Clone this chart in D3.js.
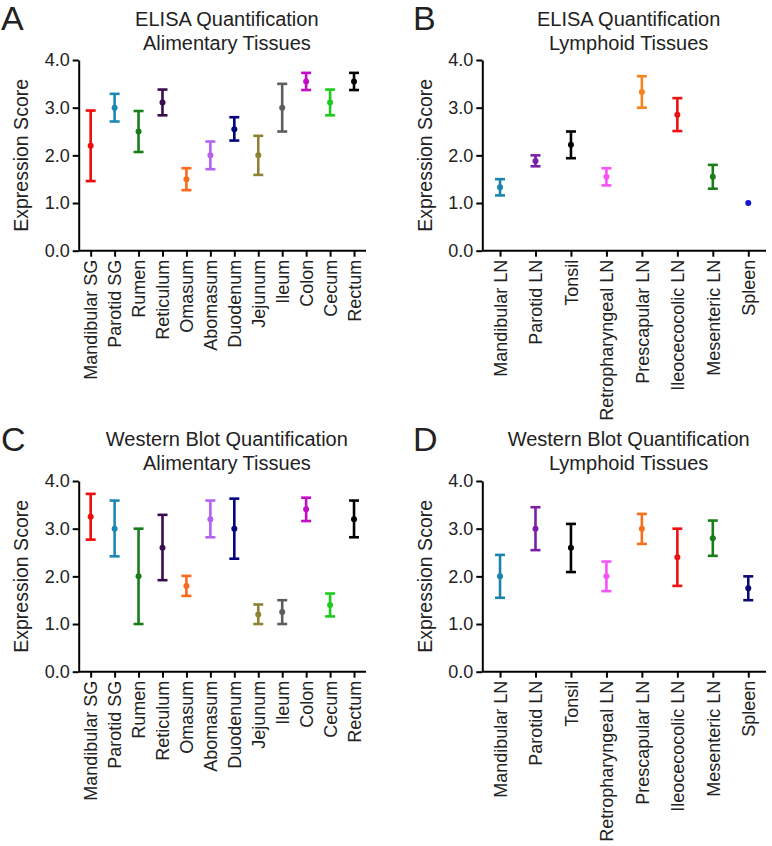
<!DOCTYPE html>
<html>
<head>
<meta charset="utf-8">
<script src="https://cdn.jsdelivr.net/npm/d3@7"></script>
<style>
  body { margin: 0; background: #fff; }
  svg text { font-family: "Liberation Sans", Arial, sans-serif; fill: #222; }
  .axis path, .axis line { stroke: #000; stroke-width: 2; }
</style>
</head>
<body>
<div id="chart"></div>
<script>
// categories
var alimTissues = ["Mandibular SG", "Parotid SG", "Rumen", "Reticulum", "Omasum", "Abomasum",
                   "Duodenum", "Jejunum", "Ileum", "Colon", "Cecum", "Rectum"];
var lymphTissues = ["Mandibular LN", "Parotid LN", "Tonsil", "Retropharyngeal LN",
                    "Prescapular LN", "Ileocecocolic LN", "Mesenteric LN", "Spleen"];

// A - ELISA alimentary
var elisaAlimMean = [2.20, 3.00, 2.50, 3.11, 1.50, 2.00, 2.55, 2.00, 3.00, 3.55, 3.11, 3.55];
var elisaAlimLow  = [1.46, 2.71, 2.07, 2.84, 1.27, 1.71, 2.31, 1.59, 2.50, 3.37, 2.84, 3.37];
var elisaAlimHigh = [2.94, 3.29, 2.93, 3.38, 1.73, 2.29, 2.80, 2.41, 3.50, 3.73, 3.38, 3.73];

// B - ELISA lymphoid
var elisaLymphMean = [1.33, 1.88, 2.22, 1.55, 3.33, 2.85, 1.55, 1.00];
var elisaLymphLow  = [1.16, 1.77, 1.94, 1.37, 3.00, 2.51, 1.30, 1.00];
var elisaLymphHigh = [1.50, 2.00, 2.50, 1.73, 3.66, 3.20, 1.80, 1.00];

// C - Western blot alimentary
var wbAlimMean = [3.25, 3.00, 2.00, 2.60, 1.80, 3.20, 3.00, 1.20, 1.25, 3.41, 1.40, 3.20];
var wbAlimLow  = [2.77, 2.42, 1.00, 1.92, 1.59, 2.82, 2.37, 1.00, 1.00, 3.16, 1.16, 2.82];
var wbAlimHigh = [3.73, 3.59, 3.00, 3.29, 2.01, 3.59, 3.63, 1.41, 1.50, 3.65, 1.64, 3.59];

// D - Western blot lymphoid
var wbLymphMean = [2.00, 3.00, 2.60, 2.00, 3.00, 2.40, 2.80, 1.75];
var wbLymphLow  = [1.55, 2.55, 2.09, 1.69, 2.68, 1.80, 2.43, 1.50];
var wbLymphHigh = [2.45, 3.45, 3.10, 2.31, 3.31, 3.00, 3.17, 2.00];

var yTicks = [0, 1, 2, 3, 4];

var alimColors = ["#f00a0a", "#1a87b4", "#1a7c1a", "#3a0b4e", "#fb6a1c", "#b462f0",
                  "#05057e", "#8d8333", "#5e5e5e", "#c30cc8", "#1fca1f", "#000000"];
var lymphColorsB = ["#1a84ad", "#7a1fa8", "#000000", "#f553f5", "#f5841c", "#ee1111", "#1a7c1a", "#1414d2"];
var lymphColorsD = ["#1a84ad", "#7a1fa8", "#000000", "#f553f5", "#f5701c", "#ee1111", "#1a7c1a", "#0a0a70"];

var svg = d3.select("#chart").append("svg")
  .attr("width", 772)
  .attr("height", 846);

function rows(cats, mean, low, high, colors) {
  return cats.map(function(c, i) {
    return { name: c, mean: mean[i], low: low[i], high: high[i], color: colors[i] };
  });
}

function drawPanel(p) {
  var x = d3.scalePoint()
    .domain(p.data.map(d => d.name))
    .range([p.left, p.right])
    .padding(0.5);
  var y = d3.scaleLinear()
    .domain([0, 4])
    .range([p.bottom, p.top]);

  var g = svg.append("g");

  // panel letter
  g.append("text")
    .attr("x", p.letterX)
    .attr("y", p.letterY)
    .style("font-size", "34px")
    .text(p.letter);

  // title, two lines
  var title = g.append("text")
    .attr("text-anchor", "middle")
    .style("font-size", "20px");
  title.append("tspan")
    .attr("x", (p.left + p.right) / 2 + 4.5)
    .attr("y", p.titleY)
    .text(p.title[0]);
  title.append("tspan")
    .attr("x", (p.left + p.right) / 2 + 4.5)
    .attr("y", p.titleY + 24)
    .text(p.title[1]);

  // y axis
  var yAxis = d3.axisLeft(y)
    .tickValues(yTicks)
    .tickFormat(d3.format(".1f"))
    .tickSize(6)
    .tickSizeOuter(0)
    .tickPadding(3);
  g.append("g")
    .attr("class", "axis")
    .attr("transform", "translate(" + p.left + ",0)")
    .call(yAxis)
    .selectAll("text")
    .style("font-size", "18px")
    .style("fill", "#222");

  // x axis
  var xAxis = d3.axisBottom(x)
    .tickSize(6)
    .tickSizeOuter(0);
  var xg = g.append("g")
    .attr("class", "axis")
    .attr("transform", "translate(0," + p.bottom + ")")
    .call(xAxis);
  xg.select(".domain").attr("d", "M" + p.left + ",0H" + p.right);
  xg.selectAll("text")
    .style("font-size", "18px")
    .style("fill", "#222")
    .attr("text-anchor", "end")
    .attr("transform", "rotate(-90)")
    .attr("x", -9)
    .attr("y", 0)
    .attr("dy", "0.35em");

  // y label
  g.append("text")
    .attr("transform", "translate(" + p.ylabelX + "," + ((p.top + p.bottom) / 2) + ") rotate(-90)")
    .attr("text-anchor", "middle")
    .attr("dy", "0.35em")
    .style("font-size", "19.5px")
    .text("Expression Score");

  // error bars
  var bars = g.append("g").selectAll("g")
    .data(p.data)
    .enter().append("g");

  bars.filter(d => d.high > d.low).append("line")
    .attr("x1", d => x(d.name)).attr("x2", d => x(d.name))
    .attr("y1", d => y(d.low)).attr("y2", d => y(d.high))
    .style("stroke", d => d.color)
    .style("stroke-width", 2.6);

  ["high", "low"].forEach(function(k) {
    bars.filter(d => d.high > d.low).append("line")
      .attr("x1", d => x(d.name) - 5).attr("x2", d => x(d.name) + 5)
      .attr("y1", d => y(d[k])).attr("y2", d => y(d[k]))
      .style("stroke", d => d.color)
      .style("stroke-width", 2.6);
  });

  bars.append("circle")
    .attr("cx", d => x(d.name))
    .attr("cy", d => y(d.mean))
    .attr("r", 3)
    .style("fill", d => d.color);
}

drawPanel({
  letter: "A", letterX: 1, letterY: 30,
  title: ["ELISA Quantification", "Alimentary Tissues"], titleY: 26,
  left: 78.7, right: 366, top: 60, bottom: 250.7, ylabelX: 21,
  data: rows(alimTissues, elisaAlimMean, elisaAlimLow, elisaAlimHigh, alimColors)
});
drawPanel({
  letter: "B", letterX: 413, letterY: 30,
  title: ["ELISA Quantification", "Lymphoid Tissues"], titleY: 26,
  left: 482.3, right: 766, top: 60, bottom: 250.7, ylabelX: 425,
  data: rows(lymphTissues, elisaLymphMean, elisaLymphLow, elisaLymphHigh, lymphColorsB)
});
drawPanel({
  letter: "C", letterX: 1, letterY: 451,
  title: ["Western Blot Quantification", "Alimentary Tissues"], titleY: 446,
  left: 78.7, right: 366, top: 481, bottom: 671.7, ylabelX: 21,
  data: rows(alimTissues, wbAlimMean, wbAlimLow, wbAlimHigh, alimColors)
});
drawPanel({
  letter: "D", letterX: 413, letterY: 451,
  title: ["Western Blot Quantification", "Lymphoid Tissues"], titleY: 446,
  left: 482.3, right: 766, top: 481, bottom: 671.7, ylabelX: 425,
  data: rows(lymphTissues, wbLymphMean, wbLymphLow, wbLymphHigh, lymphColorsD)
});
</script>
</body>
</html>
